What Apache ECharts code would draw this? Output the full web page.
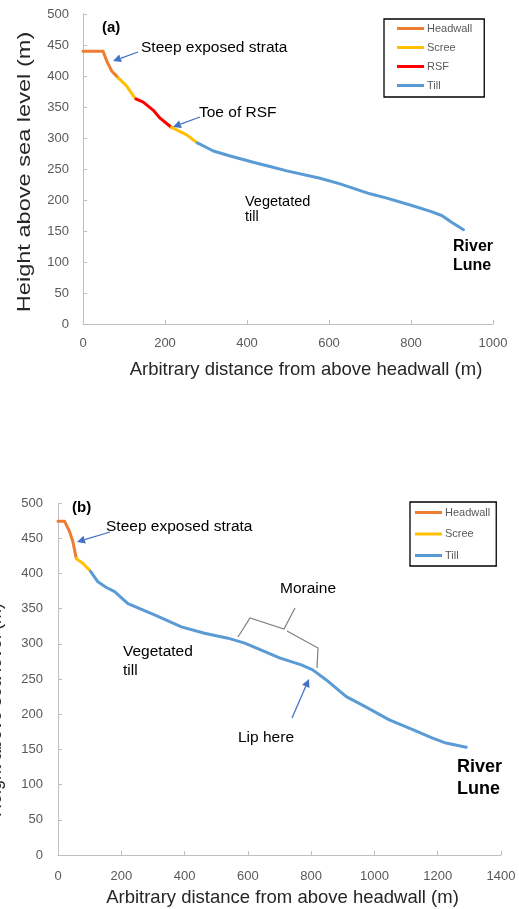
<!DOCTYPE html>
<html><head><meta charset="utf-8">
<script src="https://cdn.jsdelivr.net/npm/echarts@6/dist/echarts.min.js"></script>
<style>html,body{margin:0;padding:0;background:#fff}#c{width:519px;height:909px}</style>
</head><body><div id="c"></div>
<script>
// ---- Data: profile (a) [distance m, height m] ----
const headwallA = [[0,440],[49,440],[58,424],[70,408],[86,397]];
const screeA1   = [[86,397],[106,384],[123,368],[129,363]];
const rsfA      = [[129,363],[147,358],[171,345],[188,332],[216,317]];
const screeA2   = [[216,317],[253,305],[279,292]];
const tillA     = [[279,292],[318,279],[359,271],[415,261],[456,254],[497,247],[578,235],[627,226],[700,210],[741,203],[798,192],[846,182],[875,175],[899,164],[928,152]];
// ---- Data: profile (b) ----
const headwallB = [[0,474],[21,474],[37,459],[47,445],[58,421]];
const screeB    = [[58,421],[79,414],[103,403]];
const tillB     = [[103,403],[126,388],[153,380],[179,374],[221,357],[305,341],[390,324],[463,315],[537,308],[590,301],[637,292],[700,280],[769,270],[805,263],[847,249],[911,225],[974,210],[1047,192],[1121,178],[1184,166],[1226,159],[1290,153]];
// ---- Axes / labels ----
const xMaxA = 1000, xMaxB = 1400, xStep = 200;
const yMax = 500, yStep = 50;
const legendA = ['Headwall','Scree','RSF','Till'];
const legendB = ['Headwall','Scree','Till'];
const xTitle = 'Arbitrary distance from above headwall (m)';
const yTitle = 'Height above sea level (m)';

const FONT = '"Liberation Sans", Arial, sans-serif';
const COL = {Headwall:'#ED7D31', Scree:'#FFC000', RSF:'#FF0000', Till:'#5B9BD5'};

function ser(name, data, gi){
  return {type:'line', name, data, xAxisIndex:gi, yAxisIndex:gi, symbol:'none', showSymbol:false,
    lineStyle:{color:COL[name], width:3, cap:'round', join:'round'}, itemStyle:{color:COL[name]}, z:3};
}
function xAx(gi, max, gap, pad, lm){
  return {type:'value', gridIndex:gi, min:0, max, interval:xStep,
    axisLine:{show:true, onZero:false, lineStyle:{color:'#BFBFBF', width:1}},
    axisTick:{show:true, inside:true, length:4, lineStyle:{color:'#BFBFBF'}},
    splitLine:{show:false},
    axisLabel:{color:'#595959', fontSize:13, fontFamily:FONT, margin:lm, formatter:v => String(v)},
    name:xTitle, nameLocation:'middle', nameGap:gap,
    nameTextStyle:{fontSize:18.5, color:'#262626', fontFamily:FONT, padding:[0,0,0,pad]}};
}
function yAx(gi, lm){
  return {type:'value', gridIndex:gi, min:0, max:yMax, interval:yStep,
    axisLine:{show:true, lineStyle:{color:'#BFBFBF', width:1}},
    axisTick:{show:true, inside:true, length:4, lineStyle:{color:'#BFBFBF'}},
    splitLine:{show:false},
    axisLabel:{color:'#595959', fontSize:13, fontFamily:FONT, margin:lm, formatter:v => String(v)}};
}
function yName(x, y, stretch){
  return {type:'text', x, y, rotation:Math.PI/2, scaleX:stretch, scaleY:1, z:10,
    style:{text:yTitle, fontSize:18, fontFamily:FONT, fill:'#262626', align:'center', verticalAlign:'middle'}};
}
function arrow(x1,y1,x2,y2){
  const a = Math.atan2(y2-y1, x2-x1), L = 8, W = 4;
  const bx = x2 - L*Math.cos(a), by = y2 - L*Math.sin(a);
  return [
    {type:'line', shape:{x1, y1, x2:bx, y2:by}, style:{stroke:'#4472C4', lineWidth:1.3}, z:10},
    {type:'polygon', shape:{points:[[x2,y2],[bx+W*Math.sin(a), by-W*Math.cos(a)],[bx-W*Math.sin(a), by+W*Math.cos(a)]]}, style:{fill:'#4472C4'}, z:10}
  ];
}
function txt(t, x, y, size, bold){
  return {type:'text', x, y, z:10, style:{text:t, fontSize:size, fontWeight:bold?'bold':'normal', fontFamily:FONT, fill:'#000', verticalAlign:'middle', align:'left'}};
}
function legend(data, left, top, pad, gap){
  return {data, orient:'vertical', left, top, padding:pad, itemGap:gap, itemWidth:27, itemHeight:3, icon:'rect',
    borderColor:'#000', borderWidth:1.3, selectedMode:false,
    textStyle:{fontSize:11, color:'#595959', fontFamily:FONT, padding:[0,0,0,-2], lineHeight:13}};
}

const chart = echarts.init(document.getElementById('c'));
chart.setOption({
  animation:false,
  backgroundColor:'#fff',
  grid:[{left:83, top:14, width:410, height:310, containLabel:false, outerBoundsMode:'none'},
        {left:58, top:503, width:443, height:352, containLabel:false, outerBoundsMode:'none'}],
  xAxis:[xAx(0, xMaxA, 36, 36, 13), xAx(1, xMaxB, 33, 6, 15)],
  yAxis:[yAx(0, 14), yAx(1, 15)],
  legend:[legend(legendA, 384, 19, [3,12,5,13], 6), legend(legendB, 410, 502, [4,6,4,5], 8.5)],
  series:[
    ser('Headwall', headwallA, 0), ser('Scree', screeA1, 0), ser('RSF', rsfA, 0), ser('Scree', screeA2, 0), ser('Till', tillA, 0),
    ser('Headwall', headwallB, 1), ser('Scree', screeB, 1), ser('Till', tillB, 1)
  ],
  graphic:[
    yName(25, 172, 1.31),
    yName(-4, 710, 1),
    txt('(a)', 102, 28, 15, true),
    txt('Steep exposed strata', 141, 48, 15.5),
    ...arrow(138,52,113,61),
    txt('Toe of RSF', 199, 113, 15.5),
    ...arrow(200,117,173,127),
    txt('Vegetated', 245, 202, 14.5),
    txt('till', 245, 217, 14.5),
    txt('River', 453, 247, 16, true),
    txt('Lune', 453, 266, 16, true),

    txt('(b)', 72, 508, 15, true),
    txt('Steep exposed strata', 106, 527, 15.5),
    ...arrow(110,532,77,542),
    txt('Vegetated', 123, 652, 15.5),
    txt('till', 123, 671, 15.5),
    txt('Moraine', 280, 589, 15.5),
    {type:'polyline', shape:{points:[[238,637],[250,618],[284,629],[295,608]]}, style:{stroke:'#7F7F7F', lineWidth:1.2, fill:null}, z:10},
    {type:'polyline', shape:{points:[[287,631],[318,648],[317,668]]}, style:{stroke:'#7F7F7F', lineWidth:1.2, fill:null}, z:10},
    txt('Lip here', 238, 738, 15.5),
    ...arrow(292,718,309,679),
    txt('River', 457, 767, 18, true),
    txt('Lune', 457, 789, 18, true)
  ]
});
</script>
</body></html>
